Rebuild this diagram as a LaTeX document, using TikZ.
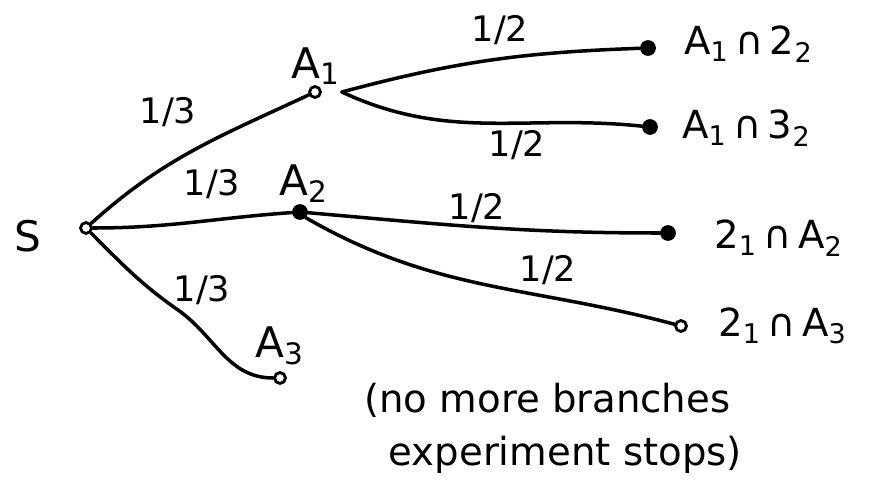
\documentclass[tikz,border=0pt]{standalone}
\usepackage{fontspec}
\setmainfont{DejaVu Sans}
\usetikzlibrary{positioning}
\newcommand{\sub}[1]{\textsubscript{#1}}

\begin{document}
\begin{tikzpicture}[
    x=0.02cm, y=-0.02cm,
    every node/.style={font=\fontsize{24}{28}\selectfont},
    dot/.style={circle, draw, line width=1.6pt, fill=white, inner sep=2.2pt},
    fdot/.style={circle, draw, line width=1.6pt, fill=black, inner sep=2.6pt},
    prob/.style={font=\fontsize{20}{24}\selectfont},
    leaf/.style={anchor=west, font=\fontsize{22}{26}\selectfont},
    br/.style={line width=2pt, line cap=round}
  ]
  \useasboundingbox (0,0) rectangle (869,487);

  % vertices
  \node[dot] (s) at (86,228) {};
  \node[dot] (a1) at (315,92) {};
  \node[fdot] (a2) at (300,212) {};
  \node[dot] (a3) at (280,378) {};
  \node[fdot] (l1) at (648,48) {};
  \node[fdot] (l2) at (650,127) {};
  \node[fdot] (l3) at (668,233) {};
  \node[dot] (l4) at (681,326) {};

  % vertex labels
  \node (ls) at (28,236) {S};
  \node (la1) at (316,66) {A\sub{1}};
  \node (la2) at (304,184) {A\sub{2}};
  \node (la3) at (280,346) {A\sub{3}};
  \node[leaf] (ll1) at (678,44) {A\sub{1}\,∩\,2\sub{2}};
  \node[leaf] (ll2) at (676,128) {A\sub{1}\,∩\,3\sub{2}};
  \node[leaf] (ll3) at (708,238) {2\sub{1}\,∩\,A\sub{2}};
  \node[leaf] (ll4) at (712,326) {2\sub{1}\,∩\,A\sub{3}};

  % branches
  \draw[br] (s) to[out=42,in=205] (a1);
  \draw[br] (s) to[out=0,in=184] (a2);
  \draw[br] (s) to[out=-45,in=145] (178,310) to[out=-35,in=180] (a3);
  \draw[br] (a1.east) ++(20,0) coordinate (a1r) to[out=15,in=182] (l1);
  \draw[br] (a1r) to[out=-25,in=174] (l2);
  \draw[br] (a2) to[out=-5,in=180] (l3);
  \draw[br] (a2.south east) to[out=-30,in=165] (l4);

  % probabilities
  \node[prob] (p1) at (168,112) {1/3};
  \node[prob] (p2) at (212,184) {1/3};
  \node[prob] (p3) at (202,290) {1/3};
  \node[prob] (p4) at (500,30) {1/2};
  \node[prob] (p5) at (517,145) {1/2};
  \node[prob] (p6) at (477,208) {1/2};
  \node[prob] (p7) at (548,270) {1/2};

  % note
  \node[align=left, anchor=west, font=\fontsize{22}{30}\selectfont] (note) at (358,428) {(no more branches\\\ \ experiment stops)};
\end{tikzpicture}
\end{document}
